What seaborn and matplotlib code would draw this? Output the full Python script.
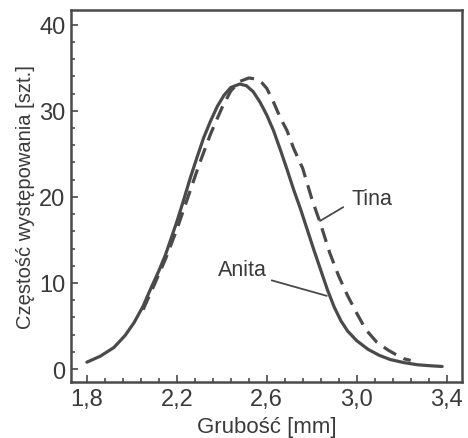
import numpy as np
import pandas as pd
import matplotlib
matplotlib.use("Agg")
import matplotlib.pyplot as plt
from matplotlib.ticker import MultipleLocator, FixedLocator
import seaborn as sns

# values
anita_x = [1.80, 1.86, 1.92, 1.97, 2.01, 2.05, 2.08, 2.12, 2.15, 2.20, 2.23, 2.26,
           2.29, 2.32, 2.35, 2.38, 2.41, 2.44, 2.48, 2.51, 2.54, 2.57, 2.60, 2.63,
           2.66, 2.69, 2.72, 2.75, 2.78, 2.81, 2.84, 2.87, 2.90, 2.93, 2.96, 3.00,
           3.05, 3.10, 3.15, 3.21, 3.27, 3.33, 3.38]
anita_y = [0.8, 1.5, 2.5, 3.9, 5.4, 7.3, 9.1, 11.4, 13.3, 17.1, 19.6, 22.2,
           24.6, 26.9, 28.8, 30.5, 31.8, 32.7, 33.1, 32.9, 32.2, 31.0, 29.5, 27.7,
           25.5, 23.2, 20.8, 18.6, 16.2, 13.8, 11.5, 9.2, 7.2, 5.6, 4.4, 3.3,
           2.3, 1.6, 1.1, 0.75, 0.5, 0.38, 0.3]

tina_x = [2.05, 2.10, 2.15, 2.20, 2.25, 2.30, 2.35, 2.40, 2.44, 2.48, 2.52, 2.55,
          2.58, 2.60, 2.63, 2.66, 2.69, 2.72, 2.76, 2.80, 2.84, 2.88, 2.92, 2.96,
          3.00, 3.04, 3.09, 3.14, 3.18, 3.21, 3.24]
tina_y = [6.9, 9.8, 12.8, 16.2, 20.0, 23.8, 27.3, 30.3, 32.3, 33.4, 33.8, 33.7,
          33.2, 32.6, 31.0, 29.2, 27.7, 25.6, 23.3, 19.8, 16.8, 13.5, 10.8, 8.5,
          6.5, 4.6, 3.1, 2.2, 1.6, 1.2, 1.0]

x_major = [1.8, 2.2, 2.6, 3.0, 3.4]
x_labels = ["1,8", "2,2", "2,6", "3,0", "3,4"]
y_major = [0, 10, 20, 30, 40]

df = pd.concat([
    pd.DataFrame({"x": anita_x, "y": anita_y, "gatunek": "Anita"}),
    pd.DataFrame({"x": tina_x, "y": tina_y, "gatunek": "Tina"}),
])

sns.set_style("ticks")
plt.rcParams['font.family'] = ['Liberation Sans', 'DejaVu Sans']

ink = "#4a4a4a"
txt = "#3a3a3a"

fig = plt.figure(figsize=(4.68, 4.39), dpi=100)
ax = fig.add_axes([0.152, 0.1276, 0.835, 0.8474])

sns.lineplot(data=df, x="x", y="y", hue="gatunek", style="gatunek",
             palette={"Anita": ink, "Tina": ink},
             dashes={"Anita": "", "Tina": (4.5, 2.6)},
             linewidth=2.3, sort=False, legend=False, ax=ax)

ax.set_xlim(1.73, 3.468)
ax.set_ylim(-1.5, 41.7)

ax.xaxis.set_major_locator(FixedLocator(x_major))
ax.set_xticklabels(x_labels)
ax.xaxis.set_minor_locator(FixedLocator(np.arange(1.8, 3.41, 0.08)))
ax.yaxis.set_major_locator(FixedLocator(y_major))
ax.yaxis.set_minor_locator(MultipleLocator(2))

ax.tick_params(which="both", direction="in", color=ink, width=1.2,
               top=False, right=False)
ax.tick_params(which="major", length=5, labelsize=17, labelcolor=txt, pad=4)
ax.tick_params(which="minor", length=3)

for s in ax.spines.values():
    s.set_visible(True)
    s.set_color(ink)
    s.set_linewidth(1.8)

ax.set_xlabel("Grubość [mm]", fontsize=16, color=txt, labelpad=5)
ax.set_ylabel("Częstość występowania [szt.]", fontsize=14.5, color=txt, labelpad=3)

# label texts with their leader lines
ax.text(3.067, 19.8, "Tina", fontsize=15.5, color=txt, ha="center", va="center")
ax.annotate("", xy=(2.837, 17.2), xytext=(2.94, 18.8),
            arrowprops=dict(arrowstyle="-", color=ink, lw=1.3,
                            shrinkA=0, shrinkB=0))
ax.text(2.49, 11.6, "Anita", fontsize=15.5, color=txt, ha="center", va="center")
ax.annotate("", xy=(2.867, 8.5), xytext=(2.622, 10.3),
            arrowprops=dict(arrowstyle="-", color=ink, lw=1.3,
                            shrinkA=0, shrinkB=0))

fig.savefig("out.png", dpi=100)
